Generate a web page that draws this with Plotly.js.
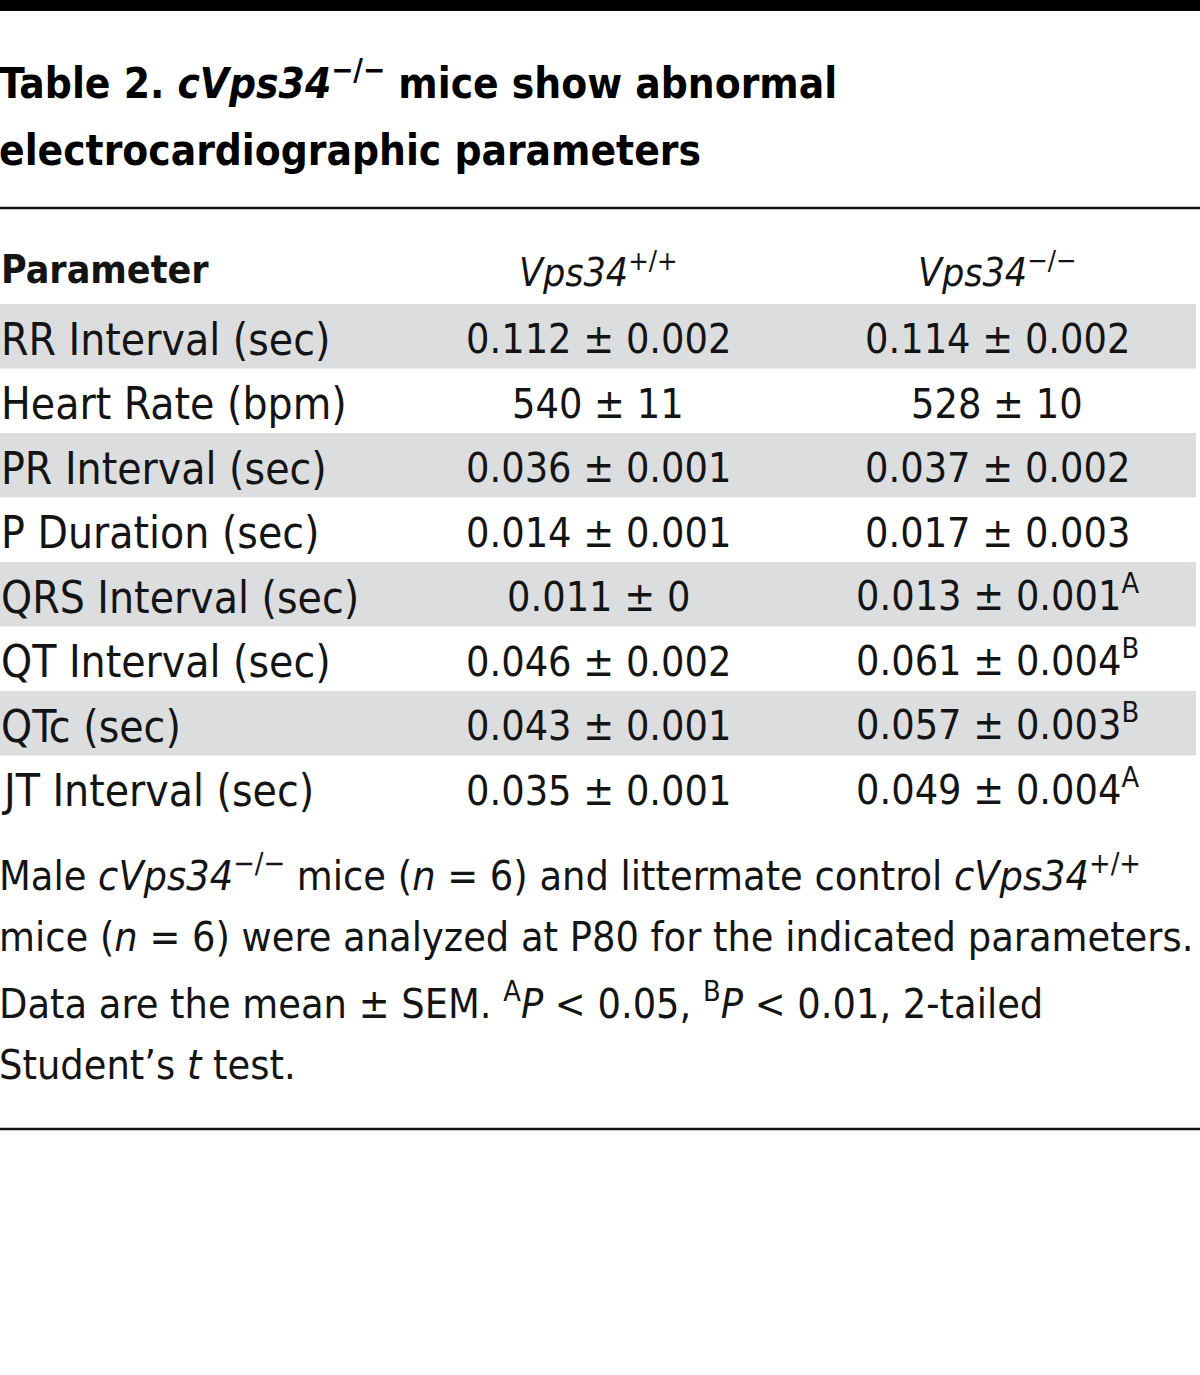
<!DOCTYPE html>
<html><head><meta charset="utf-8">
<script src="https://cdn.plot.ly/plotly-3.0.1.min.js"></script>
<style>html,body{margin:0;padding:0;background:#fff;}#chart{width:1200px;height:1375px;}</style>
</head><body><div id="chart"></div>
<script>
const FONT = "'DejaVu Sans Condensed', 'Liberation Sans Narrow', sans-serif";
const parameters = ["RR Interval (sec)", "Heart Rate (bpm)", "PR Interval (sec)", "P Duration (sec)",
  "QRS Interval (sec)", "QT Interval (sec)", "QTc (sec)", "JT Interval (sec)"];
const wtMean = ["0.112", "540", "0.036", "0.014", "0.011", "0.046", "0.043", "0.035"];
const wtSem  = ["0.002", "11", "0.001", "0.001", "0", "0.002", "0.001", "0.001"];
const koMean = ["0.114", "528", "0.037", "0.017", "0.013", "0.061", "0.057", "0.049"];
const koSem  = ["0.002", "10", "0.002", "0.003", "0.001", "0.004", "0.003", "0.004"];
const koSig  = ["", "", "", "", "A", "B", "B", "A"];
const headers = ["<b>Parameter</b>", "<i>Vps34</i><sup>+/+</sup>", "<i>Vps34</i><sup>−/−</sup>"];
const titleLines = ["<b>Table 2. <i>cVps34</i><sup>−/−</sup> mice show abnormal</b>",
  "<b>electrocardiographic parameters</b>"];
const noteLines = [
  "Male <i>cVps34</i><sup>−/−</sup> mice (<i>n</i> = 6) and littermate control <i>cVps34</i><sup>+/+</sup>",
  "mice (<i>n</i> = 6) were analyzed at P80 for the indicated parameters.",
  "Data are the mean ± SEM. <sup>A</sup><i>P</i> &lt; 0.05, <sup>B</sup><i>P</i> &lt; 0.01, 2-tailed",
  "Student’s <i>t</i> test."
];

const W = 1200, H = 1375;
const py = y => 1 - y / H;
const px = x => x / W;

const col2 = wtMean.map((m, i) => m + " ± " + wtSem[i]);
const col3 = koMean.map((m, i) => m + " ± " + koSem[i] + (koSig[i] ? "<sup>" + koSig[i] + "</sup>" : ""));

const rowTop = 304, rowH = 64.5;
const colX = [-1, 598, 997];
const colAnchor = ["left", "center", "center"];

const shapes = [
  {type: "rect", xref: "paper", yref: "paper", x0: 0, x1: 1, y0: py(11), y1: 1, fillcolor: "#000", line: {width: 0}},
  {type: "line", xref: "paper", yref: "paper", x0: 0, x1: 1, y0: py(208), y1: py(208), line: {color: "#111", width: 2.5}},
  {type: "line", xref: "paper", yref: "paper", x0: 0, x1: 1, y0: py(1129), y1: py(1129), line: {color: "#111", width: 2.5}}
];
parameters.forEach((_, i) => {
  if (i % 2 === 0) {
    shapes.push({type: "rect", xref: "paper", yref: "paper", layer: "below",
      x0: 0, x1: px(1196), y0: py(rowTop + rowH * (i + 1)), y1: py(rowTop + rowH * i),
      fillcolor: "#dcdddf", line: {width: 0}});
  }
});

const ann = [];
const textColor = "#141414";
titleLines.forEach((t, i) => ann.push({xref: "paper", yref: "paper", x: px(-3), y: py(80 + 70 * i),
  xanchor: "left", yanchor: "middle", showarrow: false, text: t,
  font: {family: FONT, size: 42, color: "#000"}}));
headers.forEach((t, j) => ann.push({xref: "paper", yref: "paper", x: px(colX[j]), y: py(270),
  xanchor: colAnchor[j], yanchor: "middle", showarrow: false, text: t,
  font: {family: FONT, size: 39, color: textColor}}));
const columns = [parameters, col2, col3];
const colSize = [44, 41, 41];
columns.forEach((col, j) => col.forEach((t, i) => {
  const hasSup = t.indexOf("<sup>") >= 0;
  ann.push({xref: "paper", yref: "paper", x: px(colX[j]), y: py(rowTop + rowH * i + rowH / 2 + 3 - (hasSup ? 4 : 0)),
    xanchor: colAnchor[j], yanchor: "middle", showarrow: false, text: t,
    font: {family: FONT, size: colSize[j], color: textColor}});
}));
noteLines.forEach((t, i) => ann.push({xref: "paper", yref: "paper", x: px(-3), y: py(873 + 64 * i),
  xanchor: "left", yanchor: "middle", showarrow: false, text: t,
  font: {family: FONT, size: 41, color: textColor}}));

const hiddenAxis = {visible: false, showticklabels: false, showgrid: false, zeroline: false, ticks: "", range: [0, 1], fixedrange: true};
const layout = {
  width: W, height: H,
  margin: {l: 0, r: 0, t: 0, b: 0},
  paper_bgcolor: "#ffffff", plot_bgcolor: "#ffffff",
  showlegend: false,
  xaxis: hiddenAxis,
  yaxis: Object.assign({}, hiddenAxis),
  shapes: shapes,
  annotations: ann
};

Plotly.newPlot("chart", [], layout, {displayModeBar: false, staticPlot: true});
</script></body></html>
